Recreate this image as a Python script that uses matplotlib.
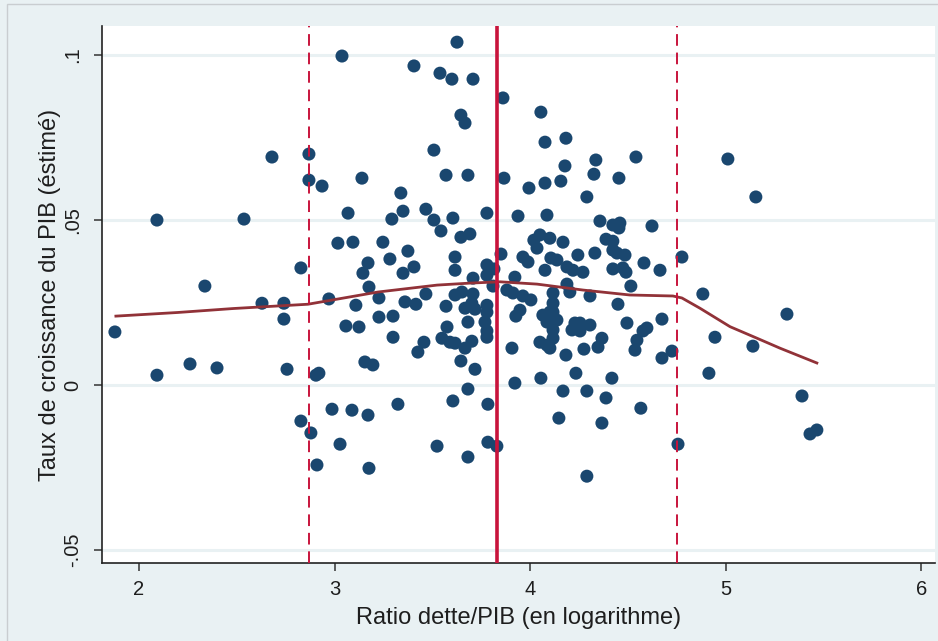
import matplotlib
matplotlib.use("Agg")
import matplotlib.pyplot as plt
from matplotlib.patches import Rectangle

plt.rcParams['font.family'] = ['Liberation Sans', 'DejaVu Sans']

# Scatter data: log debt/GDP ratio vs estimated GDP growth
debt_ratio = [
    1.877, 2.092, 2.092, 2.261, 2.337, 2.399, 2.537, 2.629, 2.680, 2.741,
    2.741, 2.757, 2.828, 2.828, 2.869, 2.869, 2.879, 2.910, 2.905, 2.920,
    2.936, 2.971, 2.987, 3.017, 3.028, 3.038, 3.058, 3.069, 3.089, 3.094,
    3.109, 3.125, 3.140, 3.145, 3.155, 3.171, 3.171, 3.176, 3.176, 3.196,
    3.227, 3.227, 3.247, 3.283, 3.293, 3.299, 3.299, 3.324, 3.339, 3.350,
    3.350, 3.360, 3.375, 3.406, 3.406, 3.416, 3.426, 3.457, 3.467, 3.467,
    3.508, 3.508, 3.524, 3.539, 3.544, 3.549, 3.570, 3.570, 3.575, 3.590,
    3.616, 3.600, 3.605, 3.605, 3.616, 3.616, 3.616, 3.651, 3.626, 3.646,
    3.667, 3.646, 3.692, 3.646, 3.667, 3.667, 3.682, 3.682, 3.682, 3.682,
    3.702, 3.708, 3.708, 3.708, 3.702, 3.718, 3.718, 3.779, 3.779, 3.779,
    3.815, 3.779, 3.779, 3.769, 3.779, 3.779, 3.784, 3.784, 3.830, 3.810,
    3.851, 3.861, 3.866, 3.881, 3.912, 3.907, 3.922, 3.922, 3.948, 3.927,
    3.938, 3.963, 4.004, 3.963, 3.989, 3.994, 4.019, 4.050, 4.035, 4.101,
    4.055, 4.055, 4.065, 4.101, 4.086, 4.137, 4.076, 4.076, 4.076, 4.086,
    4.050, 4.086, 4.101, 4.106, 4.137, 4.117, 4.117, 4.117, 4.117, 4.117,
    4.147, 4.157, 4.168, 4.168, 4.183, 4.178, 4.183, 4.188, 4.219, 4.188,
    4.203, 4.229, 4.255, 4.306, 4.214, 4.255, 4.234, 4.244, 4.270, 4.275,
    4.290, 4.290, 4.290, 4.306, 4.326, 4.336, 4.331, 4.347, 4.367, 4.357,
    4.367, 4.388, 4.423, 4.388, 4.418, 4.423, 4.459, 4.454, 4.423, 4.444,
    4.485, 4.423, 4.474, 4.490, 4.449, 4.454, 4.495, 4.515, 4.536, 4.546,
    4.541, 4.566, 4.582, 4.577, 4.597, 4.623, 4.664, 4.674, 4.674, 4.725,
    4.756, 4.776, 4.883, 4.914, 4.945, 5.011, 5.139, 5.154, 5.313, 5.390,
    5.431, 5.466,
]
growth = [
    0.0161, 0.0500, 0.0030, 0.0064, 0.0300, 0.0052, 0.0503, 0.0248, 0.0691, 0.0248,
    0.0200, 0.0048, 0.0355, -0.0109, 0.0700, 0.0621, -0.0145, -0.0242, 0.0030, 0.0036,
    0.0603, 0.0261, -0.0073, 0.0430, -0.0179, 0.0997, 0.0179, 0.0521, -0.0076, 0.0433,
    0.0242, 0.0176, 0.0627, 0.0339, 0.0070, 0.0370, -0.0091, 0.0297, -0.0252, 0.0061,
    0.0264, 0.0206, 0.0433, 0.0382, 0.0503, 0.0209, 0.0145, -0.0058, 0.0582, 0.0527,
    0.0339, 0.0252, 0.0406, 0.0967, 0.0358, 0.0245, 0.0100, 0.0130, 0.0533, 0.0276,
    0.0712, 0.0500, -0.0185, 0.0945, 0.0467, 0.0142, 0.0636, 0.0239, 0.0176, 0.0130,
    0.0127, 0.0927, 0.0506, -0.0048, 0.0388, 0.0348, 0.0273, 0.0282, 0.1039, 0.0818,
    0.0794, 0.0448, 0.0458, 0.0073, 0.0233, 0.0112, 0.0636, 0.0191, -0.0012, -0.0218,
    0.0133, 0.0927, 0.0324, 0.0276, 0.0248, 0.0230, 0.0048, 0.0521, 0.0364, 0.0333,
    0.0352, 0.0242, 0.0221, 0.0191, 0.0164, 0.0145, -0.0058, -0.0173, -0.0185, 0.0300,
    0.0397, 0.0870, 0.0627, 0.0288, 0.0279, 0.0112, 0.0327, 0.0006, 0.0227, 0.0209,
    0.0512, 0.0270, 0.0258, 0.0388, 0.0373, 0.0597, 0.0439, 0.0455, 0.0415, 0.0445,
    0.0827, 0.0021, 0.0212, 0.0221, 0.0191, 0.0197, 0.0736, 0.0612, 0.0348, 0.0515,
    0.0130, 0.0121, 0.0112, 0.0385, 0.0379, 0.0279, 0.0248, 0.0221, 0.0167, 0.0142,
    -0.0100, 0.0618, 0.0433, -0.0018, 0.0748, 0.0664, 0.0091, 0.0358, 0.0348, 0.0306,
    0.0282, 0.0188, 0.0188, 0.0182, 0.0167, 0.0164, 0.0036, 0.0394, 0.0342, 0.0109,
    0.0570, -0.0018, -0.0276, 0.0270, 0.0639, 0.0682, 0.0400, 0.0115, 0.0142, 0.0497,
    -0.0115, 0.0442, 0.0436, -0.0039, 0.0021, 0.0485, 0.0491, 0.0476, 0.0409, 0.0400,
    0.0394, 0.0352, 0.0355, 0.0342, 0.0245, 0.0627, 0.0188, 0.0300, 0.0106, 0.0136,
    0.0691, -0.0070, 0.0370, 0.0164, 0.0173, 0.0482, 0.0348, 0.0200, 0.0082, 0.0103,
    -0.0179, 0.0388, 0.0276, 0.0036, 0.0145, 0.0685, 0.0118, 0.0570, 0.0215, -0.0033,
    -0.0148, -0.0136,
]

# Smoothed (lowess) fit
smooth_x = [1.882, 2.198, 2.482, 2.864, 3.222, 3.524, 3.692, 3.846, 4.035, 4.270,
            4.510, 4.730, 4.776, 4.868, 5.022, 5.160, 5.277, 5.466]
smooth_y = [0.0209, 0.0220, 0.0232, 0.0245, 0.0282, 0.0303, 0.0309, 0.0313, 0.0306, 0.0288,
            0.0273, 0.0270, 0.0264, 0.0233, 0.0177, 0.0142, 0.0112, 0.0067]

# Threshold lines
threshold_low = 2.869
threshold_mid = 3.830
threshold_high = 4.750

x_ticks = [2, 3, 4, 5, 6]
x_tick_labels = ['2', '3', '4', '5', '6']
y_ticks = [-0.05, 0, 0.05, 0.1]
y_tick_labels = ['-.05', '0', '.05', '.1']

bg = '#e9f1f3'
navy = '#1a476f'
maroon = '#913238'
cranberry = '#c8143c'
txt = '#1e1e1e'

fig = plt.figure(figsize=(9.38, 6.41), dpi=100, facecolor=bg)
ax = fig.add_axes([102/938, 1 - 563/641, (935 - 102)/938, (563 - 26)/641])
ax.set_facecolor('white')

for yv in y_ticks:
    ax.axhline(yv, color=bg, lw=2.2, zorder=0)

ax.scatter(debt_ratio, growth, s=88, color=navy, edgecolors='none', zorder=3)
ax.plot(smooth_x, smooth_y, color=maroon, lw=2.0, zorder=4)

ax.axvline(threshold_low, color=cranberry, lw=1.4, ls=(0, (6, 3.5)), zorder=5)
ax.axvline(threshold_high, color=cranberry, lw=1.4, ls=(0, (6, 3.5)), zorder=5)
ax.axvline(threshold_mid, color=cranberry, lw=2.6, zorder=5)

ax.set_xlim(1.811, 6.070)
ax.set_ylim(-0.0539, 0.1088)

ax.set_xticks(x_ticks)
ax.set_xticklabels(x_tick_labels, fontsize=14.5)
ax.set_yticks(y_ticks)
ax.set_yticklabels(y_tick_labels, fontsize=14.5, rotation=90, va='center')

for s in ['top', 'right']:
    ax.spines[s].set_visible(False)
for s in ['left', 'bottom']:
    ax.spines[s].set_color('#222222')
    ax.spines[s].set_linewidth(1.2)
ax.tick_params(axis='both', direction='out', length=6, width=1.1, color='#333333',
               labelcolor=txt)
ax.tick_params(axis='x', pad=6)
ax.tick_params(axis='y', pad=8)

ax.set_xlabel('Ratio dette/PIB (en logarithme)', fontsize=17, color=txt, labelpad=6)
ax.set_ylabel('Taux de croissance du PIB (éstimé)', fontsize=17, color=txt, labelpad=2)

# outer frame
fig.patches.append(Rectangle((7/938, -0.1), 1.2, (641 - 4)/641 + 0.1, transform=fig.transFigure,
                             fill=False, edgecolor='#c9cdd0', lw=1.0))

fig.savefig('out.png', dpi=100, facecolor=bg)
